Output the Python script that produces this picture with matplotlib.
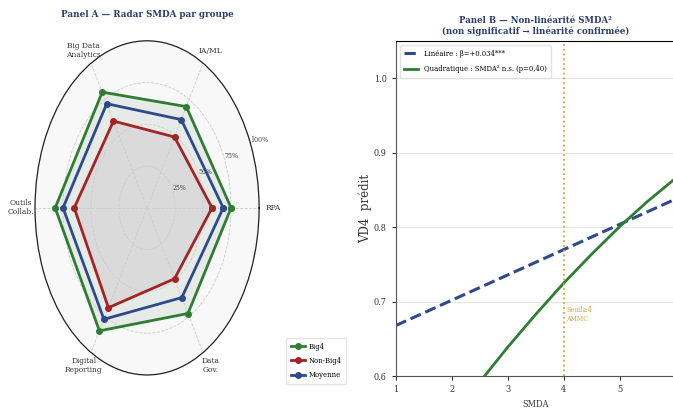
import numpy as np
import matplotlib
matplotlib.use("Agg")
from matplotlib import pyplot as plt

plt.rcParams['font.family'] = ['DejaVu Serif Condensed', 'DejaVu Serif']
plt.rcParams['font.stretch'] = 'condensed'

# ---- Panel A data (radar, % of max score)
categories = ['RPA', 'IA/ML', 'Big Data\nAnalytics', 'Outils\nCollab.',
              'Digital\nReporting', 'Data\nGov.']
big4 = [75, 70, 80, 82, 85, 73]
non_big4 = [58, 49, 60, 65, 69, 49]
moyenne = [68, 61, 72, 75, 77, 62]
r_ticks = [25, 50, 75, 100]
r_tick_labels = ['25%', '50%', '75%', '100%']

# ---- Panel B data (predicted VD4 vs SMDA)
x_lin = [1, 2, 3, 4, 5, 6]
y_lin = [0.668, 0.702, 0.736, 0.770, 0.804, 0.838]
x_quad = [2.5, 3.0, 3.5, 4.0, 4.5, 5.0, 5.5, 6.0]
y_quad = [0.592, 0.639, 0.683, 0.725, 0.764, 0.801, 0.835, 0.866]
seuil = 4

navy = '#2b3f6b'
green = '#2e7d32'
red = '#a32424'
blue = '#2c4a8c'
gold = '#d4a43a'

fig = plt.figure(figsize=(6.73, 4.08), dpi=100)

# ---------------- Panel A
ax = fig.add_axes([0.052, 0.081, 0.333, 0.819], projection='polar')
ax.set_aspect('auto')
ax.set_facecolor('#f8f8f8')
n = len(categories)
ang = np.linspace(0, 2 * np.pi, n, endpoint=False)
ang_c = np.append(ang, ang[0])

def closed(v):
    return np.append(v, v[0])

ax.fill(ang_c, closed(big4), color='#e7ebe7', zorder=1)
ax.fill(ang_c, closed(non_big4), color='#dadada', zorder=1)
ax.plot(ang_c, closed(big4), color=green, lw=2, marker='o', ms=4, label='Big4', zorder=3)
ax.plot(ang_c, closed(non_big4), color=red, lw=2, marker='o', ms=4, label='Non-Big4', zorder=3)
ax.plot(ang_c, closed(moyenne), color=blue, lw=2, marker='o', ms=4, label='Moyenne', zorder=3)

ax.set_ylim(0, 100)
ax.set_yticks(r_ticks)
ax.set_yticklabels(r_tick_labels, fontsize=5, color='#444444')
ax.set_rlabel_position(22.5)
ax.set_xticks(ang)
ax.set_xticklabels(categories, fontsize=6, color='#333333')
ax.tick_params(axis='x', pad=0)
ax.grid(True, color='#cccccc', ls='--', lw=0.6)
ax.spines['polar'].set_color('#222222')
ax.spines['polar'].set_linewidth(0.9)
ax.set_title('Panel A — Radar SMDA par groupe', fontsize=7, fontweight='bold',
             color=navy, pad=17)
ax.legend(loc='lower left', bbox_to_anchor=(0.42, 0.05), bbox_transform=fig.transFigure,
          fontsize=5.5, frameon=True, edgecolor='#dddddd', handlelength=1.8,
          labelspacing=0.8, borderpad=0.6, handletextpad=0.5)

# ---------------- Panel B
bx = fig.add_axes([0.588, 0.078, 0.416, 0.821])
bx.plot(x_lin, y_lin, color=blue, ls='--', lw=2.2, label='Linéaire : β=+0.034***')
bx.plot(x_quad, y_quad, color=green, lw=2, label='Quadratique : SMDA² n.s. (p=0,40)')
bx.axvline(seuil, color=gold, ls=':', lw=1.3)
bx.text(seuil + 0.05, 0.683, 'Seuil≥4\nAMMC', color=gold, fontsize=5, va='center')
bx.set_xlim(1, 6)
bx.set_ylim(0.6, 1.05)
bx.set_yticks([0.6, 0.7, 0.8, 0.9, 1.0])
bx.set_xticks([1, 2, 3, 4, 5, 6])
bx.tick_params(labelsize=6.5, colors='#333333', length=3)
bx.grid(axis='y', color='#e6e6e6', lw=0.8)
bx.set_axisbelow(True)
for s in ['left', 'bottom']:
    bx.spines[s].set_color('#555555')
bx.spines['right'].set_visible(False)
bx.set_xlabel('SMDA', fontsize=6.5, color='#333333', labelpad=4)
bx.set_ylabel('VD4  prédit', fontsize=8.5, fontstretch='normal', color='#333333', labelpad=1)
bx.set_title('Panel B — Non-linéarité SMDA²\n(non significatif → linéarité confirmée)',
             fontsize=6.8, fontweight='bold', color=navy, pad=5)
bx.legend(loc='upper left', fontsize=5.5, frameon=True, edgecolor='#dddddd',
          handlelength=1.8, labelspacing=1.0, borderpad=0.6)

fig.savefig('out.png', dpi=100)
